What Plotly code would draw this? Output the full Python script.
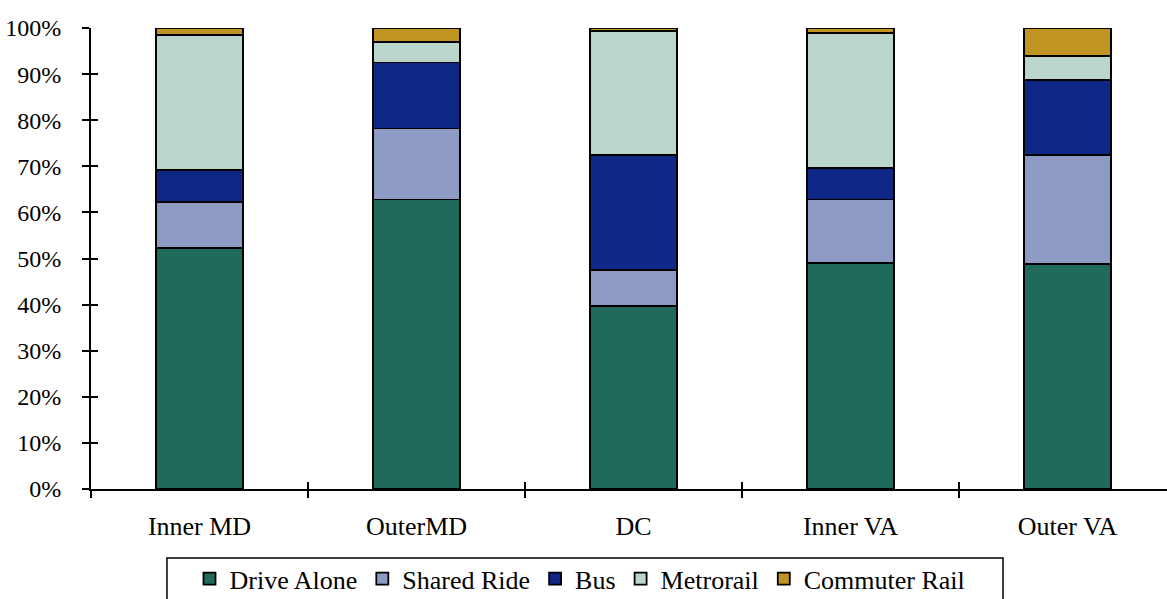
import plotly.graph_objects as go

# Commute mode shares by area (percent of workers)
areas = ["Inner MD", "OuterMD", "DC", "Inner VA", "Outer VA"]
drive_alone = [52.2, 62.8, 39.7, 49.0, 48.8]
shared_ride = [10.1, 15.4, 7.8, 13.8, 23.7]
bus = [6.9, 14.3, 25.0, 6.9, 16.2]
metrorail = [29.3, 4.4, 26.9, 29.2, 5.2]
commuter_rail = [1.5, 3.1, 0.6, 1.1, 6.1]

series = [
    ("Drive Alone", drive_alone, "#216A5B"),
    ("Shared Ride", shared_ride, "#8C9AC4"),
    ("Bus", bus, "#0F2787"),
    ("Metrorail", metrorail, "#BAD5CA"),
    ("Commuter Rail", commuter_rail, "#C19522"),
]

FONT = "Liberation Serif"

fig = go.Figure()
for name, vals, color in series:
    fig.add_trace(go.Bar(
        name=name, x=areas, y=vals, width=0.4,
        marker=dict(color=color, line=dict(color="black", width=1.8)),
    ))

fig.update_layout(
    barmode="stack",
    width=1167, height=599,
    margin=dict(l=91, r=0, t=28, b=110),
    paper_bgcolor="white", plot_bgcolor="white",
    font=dict(family=FONT, size=24, color="black"),
    showlegend=True,
    legend=dict(
        orientation="h", xref="container", yref="container",
        x=0.497, xanchor="center", y=0.073, yanchor="top",
        borderwidth=0, bgcolor="rgba(0,0,0,0)",
        font=dict(family=FONT, size=26, color="black"),
        traceorder="normal",
    ),
    xaxis=dict(
        type="category", range=[-0.5, 4.4585],
        showline=True, linecolor="black", linewidth=2,
        ticks="outside", ticklen=7, tickwidth=1.5, tickcolor="black",
        tickson="boundaries", showgrid=False, zeroline=False,
        tickfont=dict(family=FONT, size=26, color="black"),
        ticklabelstandoff=13,
    ),
    yaxis=dict(
        range=[0, 100], dtick=10, ticksuffix="%",
        showline=True, linecolor="black", linewidth=2,
        ticks="outside", ticklen=7, tickwidth=1.5, tickcolor="black",
        showgrid=False, zeroline=False,
        tickfont=dict(family=FONT, size=24, color="black"),
        ticklabelstandoff=16,
    ),
    # companion axes so tick marks cross the axis lines
    xaxis2=dict(
        overlaying="x", anchor="y", type="linear", range=[-0.5, 4.4585],
        tickvals=[0.5, 1.5, 2.5, 3.5], ticks="inside", ticklen=7,
        tickwidth=1.5, tickcolor="black", showticklabels=False,
        showgrid=False, zeroline=False, showline=False,
    ),
    yaxis2=dict(
        overlaying="y", anchor="x", range=[0, 100], dtick=10,
        ticks="inside", ticklen=7, tickwidth=1.5, tickcolor="black",
        showticklabels=False, showgrid=False, zeroline=False, showline=False,
    ),
)

# legend frame, drawn a little wider than the legend's own box
fig.add_shape(type="rect", xref="paper", yref="paper",
              x0=0.0706, x1=0.8476, y0=-0.245, y1=-0.1497,
              line=dict(color="black", width=1.5), fillcolor="rgba(0,0,0,0)",
              layer="above")

# invisible helper trace so the companion axes are drawn
fig.add_trace(go.Scatter(x=[0], y=[0], xaxis="x2", yaxis="y2",
                         mode="markers", marker=dict(opacity=0),
                         showlegend=False, hoverinfo="skip"))

fig.write_html("out.html")
